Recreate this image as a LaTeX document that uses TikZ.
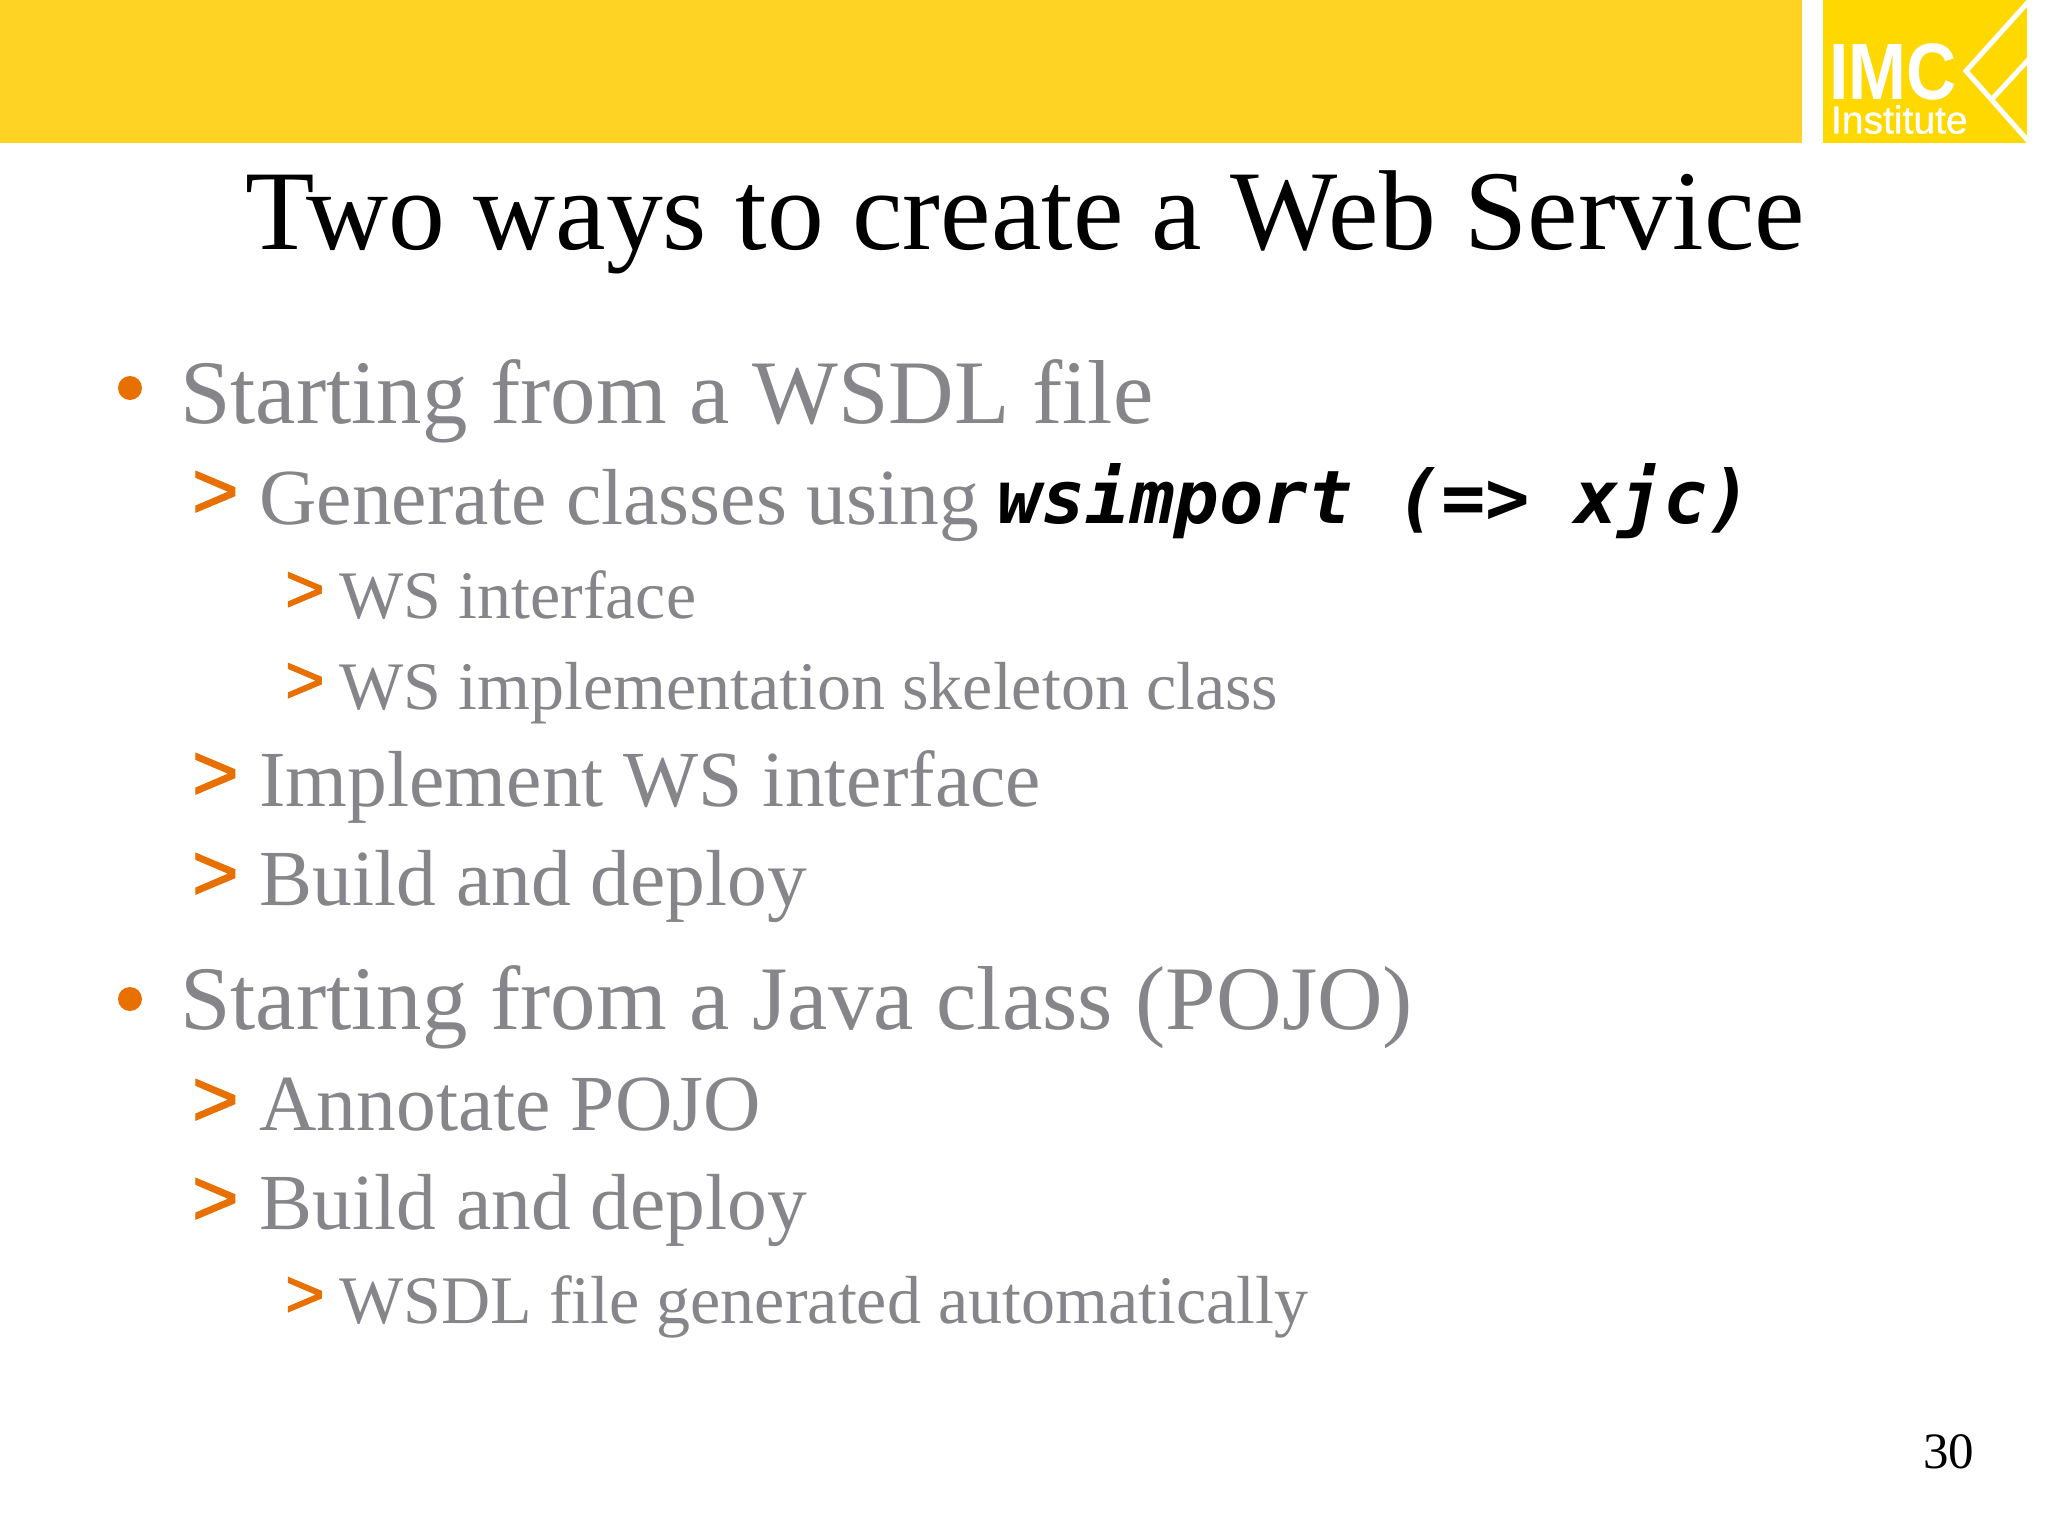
\documentclass[tikz,border=0pt]{standalone}
\usepackage{graphicx}
\usepackage{fontspec}
\setmainfont{Liberation Serif}
\newfontfamily\arialf{Liberation Sans}
\newfontfamily\chevf[FakeBold=1.6]{Liberation Sans}
\newfontfamily\instf[FakeBold=0.8]{Liberation Sans}
\newfontfamily\monof{DejaVu Sans Mono}
\definecolor{banner}{HTML}{FFD324}
\definecolor{logoy}{HTML}{FFD800}
\definecolor{bodyg}{HTML}{85858A}
\definecolor{orng}{HTML}{E87000}
\newcommand{\fs}[1]{\fontsize{#1}{#1}\selectfont}
\tikzset{
  txt/.style={inner sep=0pt,outer sep=0pt,anchor=base west},
  lone/.style={txt,text=bodyg,font=\fs{90.8}},
  ltwo/.style={txt,text=bodyg,font=\fs{79.5}},
  lthree/.style={txt,text=bodyg,font=\fs{68}},
  chevtwo/.style={txt,text=orng,font=\chevf\fs{80}},
  chevthree/.style={txt,text=orng,font=\chevf\fs{68}},
  dotb/.style={circle,fill=orng,inner sep=0pt,minimum size=24pt},
}
\begin{document}
\begin{tikzpicture}[x=1pt,y=-1pt]
\useasboundingbox (0,0) rectangle (2048,1536);
\fill[white] (0,0) rectangle (2048,1536);
\fill[banner] (0,0) rectangle (1802,143);
\fill[logoy] (1823,0) rectangle (2027,143);
\draw[white,line width=5pt] (2030,0) -- (1966,71) -- (2030,143);
\draw[white,line width=5pt] (1993,98) -- (2030,58);
\node[txt,text=white,font=\arialf\bfseries\fs{80}] (imc) at (1829,100) {\scalebox{.87}[1]{IMC}};
\node[txt,text=white,font=\instf\fs{39}] (inst) at (1845,133.5) [anchor=base west,xshift=-14pt] {Institute};
\node[txt,anchor=base,text=black,font=\fs{113.6}] (title) at (1025,249) {Two ways to create a Web Service};
\node[dotb] (b1) at (130,388) {};
\node[lone] (t1) at (180,423) {Starting from a WSDL file};
\node[chevtwo] (c2) at (192,518) {>};
\node[ltwo] (t2) at (259.5,524) {Generate classes using};
\node[txt,text=black,font=\monof\bfseries\itshape\fs{73.8}] (t2b) at (997,523) {wsimport (=> xjc)};
\node[chevthree] (c3) at (285,612) {>};
\node[lthree] (t3) at (339.5,618) {WS interface};
\node[chevthree] (c4) at (285,703) {>};
\node[lthree] (t4) at (339.5,709) {WS implementation skeleton class};
\node[chevtwo] (c5) at (192,800) {>};
\node[ltwo] (t5) at (259.5,806) {Implement WS interface};
\node[chevtwo] (c6) at (192,900) {>};
\node[ltwo] (t6) at (259.5,905) {Build and deploy};
\node[dotb] (b2) at (130,999) {};
\node[lone] (t7) at (180,1029) {Starting from a Java class (POJO)};
\node[chevtwo] (c8) at (192,1126) {>};
\node[ltwo] (t8) at (259.5,1130) {Annotate POJO};
\node[chevtwo] (c9) at (192,1225) {>};
\node[ltwo] (t9) at (259.5,1229) {Build and deploy};
\node[chevthree] (c10) at (285,1317) {>};
\node[lthree] (t10) at (339.5,1323) {WSDL file generated automatically};
\node[txt,text=black,font=\fs{51}] (pg) at (1923,1468) {30};
\end{tikzpicture}
\end{document}
